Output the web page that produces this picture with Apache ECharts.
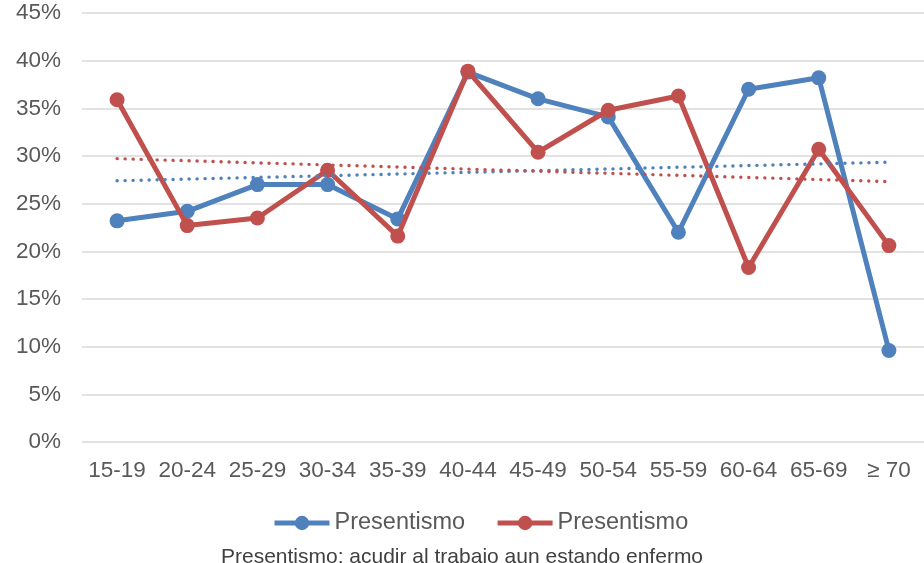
<!DOCTYPE html>
<html>
<head>
<meta charset="utf-8">
<script src="https://cdn.jsdelivr.net/npm/echarts@6/dist/echarts.min.js"></script>
<style>
html,body{margin:0;padding:0;background:#fff;}
#chart{width:924px;height:563px;}
</style>
</head>
<body>
<div id="chart"></div>
<script>
var categories = ['15-19','20-24','25-29','30-34','35-39','40-44','45-49','50-54','55-59','60-64','65-69','\u2265 70'];
var blueValues = [23.2, 24.2, 27.0, 27.0, 23.4, 38.8, 36.0, 34.1, 22.0, 37.0, 38.2, 9.6];
var redValues  = [35.9, 22.7, 23.5, 28.5, 21.6, 38.9, 30.4, 34.8, 36.3, 18.3, 30.7, 20.6];
var seriesLabels = ['Presentismo', 'Presentismo'];
var subtitleText = 'Presentismo: acudir al trabajo aun estando enfermo';
var yTicks = [0, 5, 10, 15, 20, 25, 30, 35, 40, 45];

function linearTrend(vals) {
  var n = vals.length, sx = 0, sy = 0, sxx = 0, sxy = 0;
  for (var i = 0; i < n; i++) { sx += i; sy += vals[i]; sxx += i * i; sxy += i * vals[i]; }
  var b = (n * sxy - sx * sy) / (n * sxx - sx * sx);
  var a = (sy - b * sx) / n;
  return vals.map(function (_, i) { return +(a + b * i).toFixed(3); });
}

var BLUE = '#4F81BD', RED = '#C0504D';
var FONT = 'Liberation Sans, Arial, sans-serif';
var chart = echarts.init(document.getElementById('chart'));
var trendStyle = function (c) {
  return { color: c, width: 3.4, type: [0.1, 7.9], cap: 'round' };
};
chart.setOption({
  animation: false,
  grid: { left: 82, right: 0, top: 13, bottom: 121, containLabel: false },
  xAxis: {
    type: 'category',
    data: categories,
    boundaryGap: true,
    axisLine: { show: false },
    axisTick: { show: false },
    axisLabel: { color: '#595959', fontSize: 22.5, fontFamily: FONT, margin: 17, interval: 0 }
  },
  yAxis: {
    type: 'value',
    min: yTicks[0], max: yTicks[yTicks.length - 1], interval: 5,
    axisLine: { show: false },
    axisTick: { show: false },
    splitLine: { lineStyle: { color: '#D9D9D9', width: 1.5 } },
    axisLabel: { color: '#595959', fontSize: 22.5, fontFamily: FONT, margin: 21, formatter: '{value}%' }
  },
  legend: {
    top: 506,
    left: 267,
    itemWidth: 55,
    itemHeight: 18,
    itemGap: 30,
    data: ['s1', 's2'],
    formatter: function (name) { return name === 's1' ? seriesLabels[0] : seriesLabels[1]; },
    lineStyle: { width: 5 },
    textStyle: { color: '#595959', fontSize: 23.5, fontFamily: FONT }
  },
  title: {
    text: subtitleText,
    left: 'center',
    top: 542,
    textStyle: { color: '#404040', fontSize: 21, fontWeight: 'normal', fontFamily: FONT }
  },
  series: [
    { name: 's1', type: 'line', data: blueValues, symbol: 'circle', symbolSize: 15,
      itemStyle: { color: BLUE }, lineStyle: { color: BLUE, width: 5 }, z: 3 },
    { name: 's2', type: 'line', data: redValues, symbol: 'circle', symbolSize: 15,
      itemStyle: { color: RED }, lineStyle: { color: RED, width: 5 }, z: 4 },
    { name: 't1', type: 'line', data: linearTrend(blueValues), symbol: 'none',
      lineStyle: trendStyle(BLUE), z: 5, silent: true },
    { name: 't2', type: 'line', data: linearTrend(redValues), symbol: 'none',
      lineStyle: trendStyle(RED), z: 5, silent: true }
  ]
});
</script>
</body>
</html>
